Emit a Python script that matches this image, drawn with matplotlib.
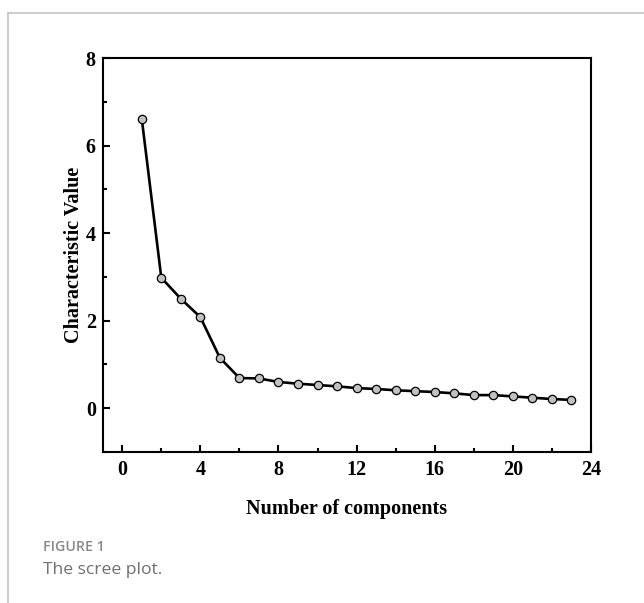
import numpy as np
import matplotlib
matplotlib.use("Agg")
import matplotlib.pyplot as plt
from matplotlib.ticker import MultipleLocator
from matplotlib.lines import Line2D

# Eigenvalues
components = list(range(1, 24))
eigenvalues = [6.61, 2.98, 2.50, 2.08, 1.15, 0.69, 0.68, 0.60, 0.56, 0.53,
               0.50, 0.46, 0.44, 0.41, 0.39, 0.37, 0.34, 0.30, 0.30, 0.27,
               0.24, 0.21, 0.19]

x_label = "Number of components"
y_label = "Characteristic Value"
caption_head = "FIGURE 1"
caption_text = "The scree plot."

fig = plt.figure(figsize=(6.44, 6.03), dpi=100)

# page frame (top and left border)
fig.add_artist(Line2D([8 / 644, 1], [1 - 13 / 603] * 2, color="#c4c4c4", lw=1.2))
fig.add_artist(Line2D([8 / 644] * 2, [0, 1 - 13 / 603], color="#c4c4c4", lw=1.2))

ax = fig.add_axes([0.1595, 0.2504, 0.7582, 0.6534])
ax.plot(components, eigenvalues, color="black", lw=1.9, marker="o", ms=6,
        mfc="#c0c0c0", mec="black", mew=0.9)

ax.set_xlim(-1, 24)
ax.set_ylim(-1, 8)
ax.xaxis.set_major_locator(MultipleLocator(4))
ax.xaxis.set_minor_locator(MultipleLocator(2))
ax.yaxis.set_major_locator(MultipleLocator(2))
ax.yaxis.set_minor_locator(MultipleLocator(1))

for s in ax.spines.values():
    s.set_linewidth(1.5)
ax.tick_params(which="both", direction="in", width=1.5, top=False, right=False)
ax.tick_params(which="major", length=5)
ax.tick_params(which="minor", length=3)
ax.tick_params(axis="y", which="major", pad=5)
ax.tick_params(axis="x", which="major", pad=6)

for lab in ax.get_xticklabels() + ax.get_yticklabels():
    lab.set_fontfamily("Liberation Serif")
    lab.set_fontweight("bold")
    lab.set_fontsize(14.5)

ax.set_xlabel(x_label, fontfamily="Liberation Serif", fontweight="bold",
              fontsize=14.5, labelpad=13.5)
ax.set_ylabel(y_label, fontfamily="Liberation Serif", fontweight="bold",
              fontsize=14.5, labelpad=1)

fig.text(43 / 644, 1 - 547 / 603, caption_head, fontfamily="Open Sans",
         fontweight="semibold", fontsize=10.2, color="#888888", va="center")
fig.text(43 / 644, 1 - 570 / 603, caption_text, fontfamily="Open Sans",
         fontsize=12.6, color="#707070", va="center")

fig.savefig("out.png", dpi=100)
